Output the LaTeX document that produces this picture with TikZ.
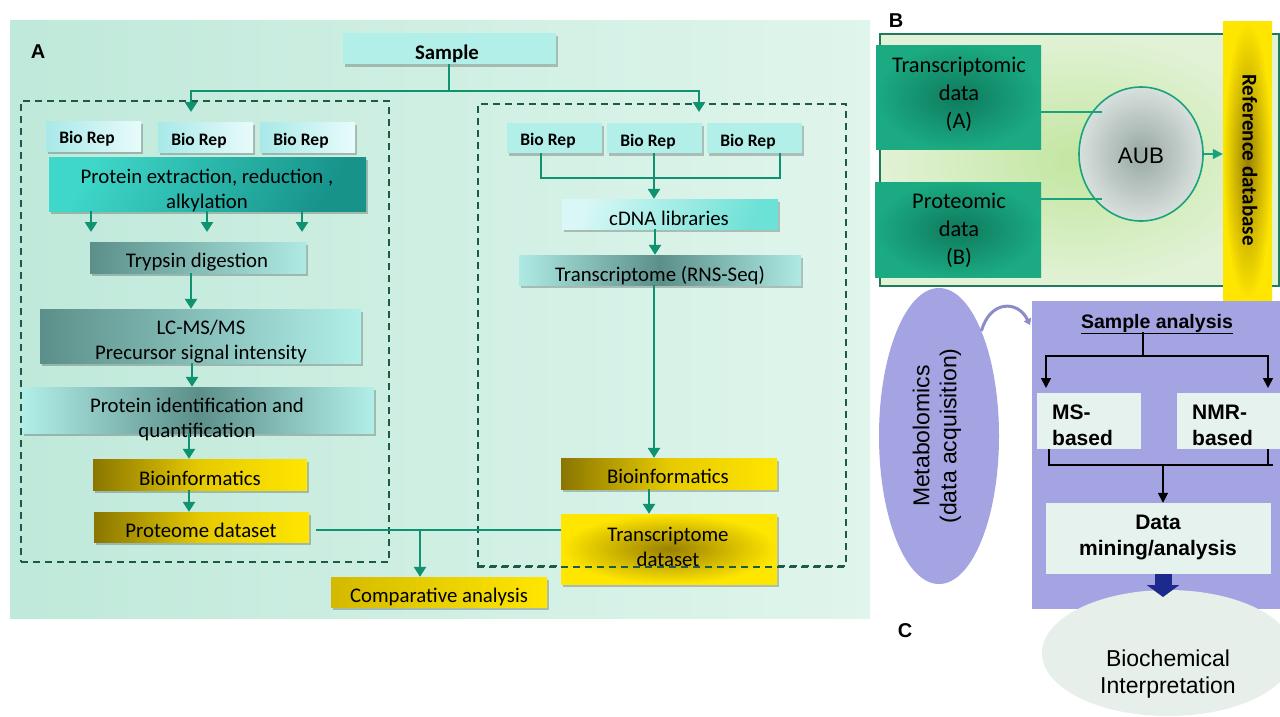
\documentclass[tikz,border=0pt]{standalone}
\usepackage{fontspec}
\setmainfont{Carlito}
\newfontfamily\arialf{Liberation Sans}
\usetikzlibrary{arrows.meta,shadows,fit,shapes.geometric}
\definecolor{lnc}{HTML}{0F9270}
\definecolor{dsh}{HTML}{1D5A4A}
\definecolor{lav}{HTML}{A4A4E2}
\definecolor{pale}{HTML}{E6F2EE}
\definecolor{navy}{HTML}{1B2A8C}
\definecolor{tealB}{HTML}{1AA37A}
\definecolor{bgAl}{HTML}{BFE9DA}
\definecolor{bgAr}{HTML}{E0F5EC}
\definecolor{cyanL}{HTML}{B2EFE9}
\definecolor{cyanXL}{HTML}{E9FBFB}
\definecolor{cyanM}{HTML}{A8E9E8}
\definecolor{turq}{HTML}{3ED7C9}
\definecolor{tealD}{HTML}{17938A}
\definecolor{greyT}{HTML}{5C8F8A}
\definecolor{lightT}{HTML}{AEEAE3}
\definecolor{oliveD}{HTML}{8A7600}
\definecolor{yelM}{HTML}{E6CA00}
\definecolor{yelL}{HTML}{FFE600}
\definecolor{goldD}{HTML}{9A8000}
\definecolor{grnIn}{HTML}{C2E6A0}
\definecolor{grnOut}{HTML}{E2F2D6}
\definecolor{grnBord}{HTML}{217A5C}
\definecolor{dataIn}{HTML}{0E7A5E}
\definecolor{dataOut}{HTML}{1BAA82}
\definecolor{aubIn}{HTML}{98A8A2}
\definecolor{aubOut}{HTML}{D8E0DD}
\definecolor{curv}{HTML}{8C8CC8}
\definecolor{bioE}{HTML}{E6EFEA}
\newcommand\fszA{\fontsize{20.8}{25}\selectfont}
\newcommand\fszB{\fontsize{22.4}{28}\selectfont}
\begin{document}
\begin{tikzpicture}[x=1pt,y=-1pt,
  bx/.style={rectangle, inner sep=0pt, draw=none},
  sh/.style={drop shadow={shadow xshift=2pt, shadow yshift=-2.5pt, opacity=0.22, fill=black}},
  tA/.style={inner sep=0pt, anchor=base, font=\fszA, align=center, text=black},
  tAb/.style={tA, font=\fszA\bfseries},
  tRep/.style={inner sep=0pt, anchor=base, font=\fontsize{17.5}{20}\selectfont\bfseries},
  ln/.style={draw=lnc, line width=2.6pt},
  arr/.style={ln, -{Triangle[width=12pt,length=10pt]}},
  dbox/.style={draw=dsh, line width=1.8pt, dash pattern=on 7pt off 5pt},
  yel/.style={left color=oliveD, right color=yelL, middle color=yelM},
  kln/.style={draw=black, line width=1.6pt},
  karr/.style={kln, -{Triangle[width=10pt,length=10pt]}},
  tB/.style={inner sep=0pt, anchor=base, font=\fszB, align=center, text=black},
  tC/.style={inner sep=0pt, anchor=base west, font=\arialf\fontsize{21}{26}\selectfont\bfseries, align=left, text=black},
  lbl/.style={inner sep=0pt, anchor=base, font=\arialf\fontsize{20}{24}\selectfont\bfseries}
]
\useasboundingbox (0,0) rectangle (1280,716);
\clip (0,0) rectangle (1280,716);
\fill[white] (0,0) rectangle (1280,716);

% ---------------- Panel A ----------------
\node[bx, fit={(10,20) (870,618)}, left color=bgAl, right color=bgAr] (bgA) {};
\node[lbl] (labA) at (38,58) {A};

\node[bx, dbox, fit={(21,101) (389,562)}] (gl) {};
\node[bx, dbox, fit={(478,104) (846,566)}] (gr) {};

\node[bx, sh, fill=cyanL, fit={(343,33) (556,64)}] (sample) {};
\node[tAb] (sampleT) at (447,59) {Sample};

% left column
\node[bx, sh, left color=cyanM, right color=cyanXL, fit={(46,121) (141,151)}] (bl1) {};
\node[bx, sh, left color=cyanM, right color=cyanXL, fit={(158,122) (253,152)}] (bl2) {};
\node[bx, sh, left color=cyanM, right color=cyanXL, fit={(260,122) (355,152)}] (bl3) {};
\node[tRep] (bl1T) at (87,143) {Bio Rep};
\node[tRep] (bl2T) at (199,145) {Bio Rep};
\node[tRep] (bl3T) at (301,145) {Bio Rep};

\node[bx, sh, left color=turq, right color=tealD, shading angle=60, fit={(49,157) (366,211)}] (pe) {};
\node[tA] (peT) at (207,208) {Protein extraction, reduction ,\\alkylation};

\node[bx, sh, left color=greyT, right color=lightT, fit={(90,242) (306,273)}] (tr) {};
\node[tA] (trT) at (197,267) {Trypsin digestion};

\node[bx, sh, left color=greyT, right color=cyanL, fit={(40,309) (361,363)}] (lc) {};
\node[tA] (lcT) at (201,359) {LC-MS/MS\\Precursor signal intensity};

\node[bx, sh, left color=cyanL, right color=cyanL, middle color=greyT, fit={(22,387) (374,433)}] (pi) {};
\node[tA] (piT) at (197,437) {Protein identification and\\quantification};

\node[bx, sh, yel, fit={(93,459) (307,490)}] (bi1) {};
\node[tA] (bi1T) at (200,485) {Bioinformatics};

\node[bx, sh, yel, fit={(94,512) (309,542)}] (pd) {};
\node[tA] (pdT) at (201,537) {Proteome dataset};

\node[bx, sh, left color=yelM!80!oliveD, right color=yelL, fit={(331,577) (547,607)}] (ca) {};
\node[tA] (caT) at (439,602) {Comparative analysis};

% right column
\node[bx, sh, fill=cyanL, fit={(507,123) (602,153)}] (br1) {};
\node[bx, sh, fill=cyanL, fit={(607,123) (702,153)}] (br2) {};
\node[bx, sh, fill=cyanL, fit={(707,123) (802,153)}] (br3) {};
\node[tRep] (br1T) at (548,145) {Bio Rep};
\node[tRep] (br2T) at (648,146) {Bio Rep};
\node[tRep] (br3T) at (748,146) {Bio Rep};

\node[bx, sh, left color=cyanXL!70!cyanL, right color=turq!60!cyanL, shading angle=70, fit={(562,199) (778,229)}] (cd) {};
\node[tA] (cdT) at (669,225) {cDNA libraries};

\node[bx, sh, left color=lightT, right color=lightT, middle color=greyT, fit={(519,255) (801,285)}] (rs) {};
\node[tA] (rsT) at (660,281) {Transcriptome (RNS-Seq)};

\node[bx, sh, yel, fit={(561,458) (777,489)}] (bi2) {};
\node[tA] (bi2T) at (668,483) {Bioinformatics};

\node[bx, sh, inner color=goldD, outer color=yelL, fit={(561,514) (777,584)}] (td) {};
\node[tA] (tdT) at (668,566) {Transcriptome\\dataset};

% dashed line of the right group runs across the transcriptome dataset
\draw[dbox] (gr.south west) -- (gr.south east);

% connectors panel A
\coordinate (la) at (191,112);
\coordinate (ra) at (699,112);
\draw[arr] (449,0 |- sample.south) -- (449,91) -| (la);
\draw[arr] (449,91) -| (ra);

\coordinate (p1) at (91,232);
\coordinate (p2) at (207,232);
\coordinate (p3) at (302,232);
\draw[arr] (p1 |- pe.south) -- (p1);
\draw[arr] (p2 |- pe.south) -- (p2);
\draw[arr] (p3 |- pe.south) -- (p3);
\draw[arr] (191,0 |- tr.south) -- (191,0 |- lc.north);
\draw[arr] (192,0 |- lc.south) -- (192,0 |- pi.north);
\draw[arr] (189,0 |- pi.south) -- (189,0 |- bi1.north);
\draw[arr] (189,0 |- bi1.south) -- (189,0 |- pd.north);

\coordinate (pj) at (316,530);
\coordinate (cj) at (420,530);
\draw[ln] (pj) -- (pj -| td.west);
\draw[arr] (cj) -- (cj |- ca.north);

\coordinate (rj) at (654,178);
\draw[ln] (541,0 |- br1.south) |- (rj) -| (780,0 |- br3.south);
\draw[arr] (654,0 |- br2.south) -- (654,0 |- cd.north);
\draw[arr] (655,0 |- cd.south) -- (655,0 |- rs.north);
\draw[arr] (654,0 |- rs.south) -- (654,0 |- bi2.north);
\draw[arr] (649,0 |- bi2.south) -- (649,0 |- td.north);

% ---------------- Panel B ----------------
\node[lbl] (labB) at (896,27) {B};
\node[bx, draw=grnBord, line width=1.6pt, inner color=grnIn, outer color=grnOut, fit={(880,34) (1279,286)}] (ob) {};
\node[bx, inner color=goldD, outer color=yelL, fit={(1223,21) (1272,300)}] (ref) {};
\node[inner sep=0pt, rotate=-90, font=\fontsize{21}{24}\selectfont\bfseries] (refT) at (1250,160) {Reference database};

\node[bx, inner color=dataIn, outer color=dataOut, fit={(876,45) (1041,149)}] (tdata) {};
\node[tB] (tdataT) at (959,128) {Transcriptomic\\data\\(A)};
\node[bx, inner color=dataIn, outer color=dataOut, fit={(875,182) (1041,277)}] (pdata) {};
\node[tB] (pdataT) at (959,264) {Proteomic\\data\\(B)};

\node[ellipse, draw=tealB, line width=1.6pt, inner color=aubIn, outer color=aubOut, minimum width=124pt, minimum height=134pt, inner sep=0pt] (aub) at (1141,154) {};
\node[inner sep=0pt, anchor=base, font=\arialf\fontsize{22.4}{26}\selectfont] (aubT) at (1141,163) {AUB};

\coordinate (ai) at (1102,112);
\coordinate (bi) at (1102,199);
\draw[tealB, line width=1.5pt] (ai -| tdata.east) -- (ai);
\draw[tealB, line width=1.5pt] (bi -| pdata.east) -- (bi);
\draw[tealB, line width=1.5pt, -{Triangle[width=10pt,length=10pt]}] (aub.east) -- (aub.east -| ref.west);

% ---------------- Panel C ----------------
\node[ellipse, fill=lav, minimum width=120pt, minimum height=296pt, inner sep=0pt] (meta) at (939,436) {};
\node[inner sep=0pt, rotate=90, align=center, font=\arialf\fontsize{23}{27}\selectfont] (metaT) at (937,436) {Metabolomics\\(data acquisition)};

\node[bx, fill=lav, fit={(1032,301) (1281,609)}] (pr) {};
\coordinate (ce) at (1030,325);
\draw[curv, line width=3pt, -{Triangle[width=8pt,length=6pt]}] (meta.68) .. controls (990,300) and (1018,300) .. (ce);

\node[inner sep=0pt, anchor=base, font=\arialf\fontsize{19.5}{23}\selectfont\bfseries] (saT) at (1157,328) {\underline{Sample analysis}};

\node[bx, fill=pale, fit={(1037,393) (1141,449)}] (ms) {};
\node[bx, fill=pale, fit={(1177,393) (1281,449)}] (nmr) {};
\node[tC] (msT) at (1052,445) {MS-\\based};
\node[tC] (nmrT) at (1192,445) {NMR-\\based};
\node[bx, fill=pale, fit={(1046,503) (1271,574)}] (dm) {};
\node[tC, anchor=base, align=center] (dmT) at (1158,555) {Data\\mining/analysis};

\coordinate (sc) at (1143,356);
\coordinate (msa) at (1046,388);
\coordinate (nma) at (1268,388);
\draw[kln] (1143,332) -- (sc);
\draw[karr] (sc) -| (msa);
\draw[karr] (sc) -| (nma);
\coordinate (mj) at (1163,465);
\draw[kln] (1049,0 |- ms.south) |- (mj) -| (1268,0 |- nmr.south);
\draw[kln] (1268,465) -- (1273,465);
\draw[karr] (mj) -- (mj |- dm.north);

\node[ellipse, fill=bioE, minimum width=252pt, minimum height=126pt, inner sep=0pt] (bio) at (1168,653) {};
\node[inner sep=0pt, anchor=base, align=center, font=\arialf\fontsize{23}{27}\selectfont] (bioT) at (1168,693) {Biochemical\\Interpretation};
\coordinate (nv) at (1163,597);
\draw[navy, line width=17pt, -{Triangle[width=32pt,length=12pt]}] (1163,0 |- dm.south) -- (nv);

\node[lbl] (labC) at (905,637) {C};
\end{tikzpicture}
\end{document}
